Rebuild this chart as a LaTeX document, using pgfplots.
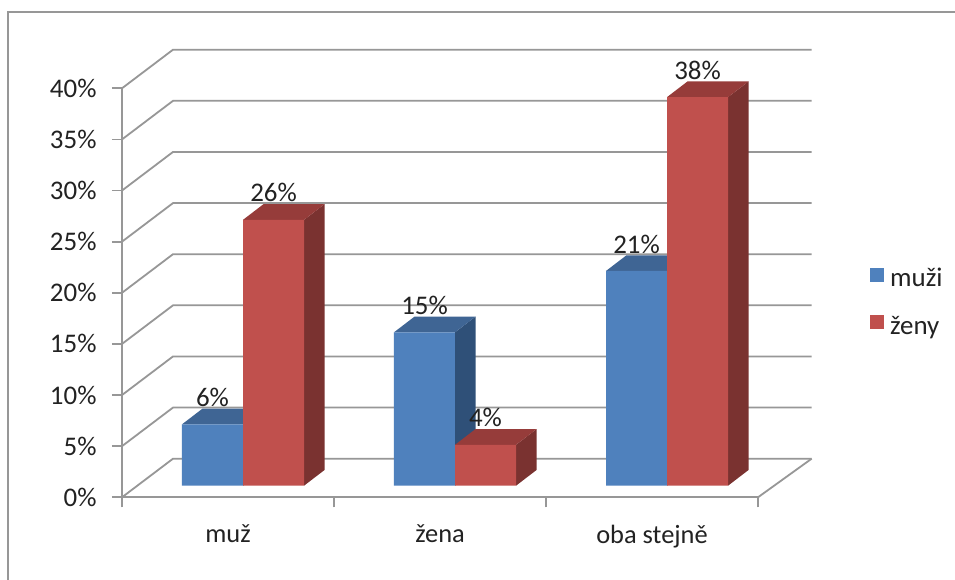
\documentclass[border=0pt]{standalone}
\usepackage{fontspec}
\setmainfont{Carlito}
\usepackage{pgfplots}
\pgfplotsset{compat=1.18}
\definecolor{gridc}{HTML}{979797}
\definecolor{txt}{HTML}{222222}
\definecolor{bluef}{HTML}{4F81BD}
\definecolor{bluet}{HTML}{3F6594}
\definecolor{blues}{HTML}{2F5078}
\definecolor{redf}{HTML}{C0504D}
\definecolor{redt}{HTML}{963C3A}
\definecolor{reds}{HTML}{7A3230}
% one bar's top and side faces: centre x, value, top colour, side colour
\newcommand\barfaces[4]{%
  \pgfmathsetmacro\xa{#1-0.1439}%
  \pgfmathsetmacro\xb{#1+0.1439}%
  \pgfmathsetmacro\xc{#1+0.1439+0.0967}%
  \pgfmathsetmacro\xd{#1-0.1439+0.0967}%
  \pgfmathsetmacro\yt{#2+1.535}%
  \addplot[fill=#4,draw=none,forget plot,xshift=15bp,yshift=11.6bp] coordinates {(\xb,0) (\xc,1.535) (\xc,\yt) (\xb,#2) (\xb,0)};
  \addplot[fill=#3,draw=none,forget plot,xshift=15bp,yshift=11.6bp] coordinates {(\xa,#2) (\xb,#2) (\xc,\yt) (\xd,\yt) (\xa,#2)};
}
\begin{document}
\begin{tikzpicture}[x=1bp,y=1bp]
\useasboundingbox (-122,-82.7) rectangle (833,497.3);
\fill[white] (-122,-82.7) rectangle (833,497.3);
\draw[gridc,line width=2bp] (-113.5,-82.7) -- (-113.5,485.3) -- (833,485.3);
\begin{axis}[
  at={(0,0)},anchor=origin,
  scale only axis,width=636bp,height=409bp,
  xmin=0,xmax=3,ymin=0,ymax=40,clip=false,
  axis x line=bottom,axis y line=left,
  axis line style={-,gridc,line width=1.8bp},
  tick style={gridc,line width=1.8bp},
  major tick length=10bp,
  tick align=outside,
  xtick={0,1,2,3},xticklabels={},
  extra x ticks={0.5,1.5,2.5},
  extra x tick labels={muž,žena,oba stejně},
  extra x tick style={major tick length=0pt,tick label style={yshift=-24bp,text=txt,font=\fontsize{26.5}{28}\selectfont}},
  ytick={0,5,...,40},
  yticklabel={\pgfmathprintnumber{\tick}\%},
  yticklabel style={/pgf/number format/assume math mode=true,text=txt,xshift=-12bp,font=\fontsize{27}{29}\selectfont},
  legend style={at={(1.176,0.562)},anchor=north west,draw=none,fill=none,
    font=\fontsize{27}{29}\selectfont,text=txt,row sep=27bp,inner sep=0pt,
    legend cell align=left,nodes={inner ysep=0pt,inner xsep=6bp}},
  legend image code/.code={\fill[#1,draw=none] (0bp,-15bp) rectangle (14bp,-1bp);},
  every node near coord/.append style={anchor=center,yshift=27bp,text=txt,font=\fontsize{27}{29}\selectfont,/pgf/number format/assume math mode=true},
]
% walls: gridlines run from the front axis to the back wall
\addplot[gridc,line width=1.8bp,forget plot] coordinates {(0,0) (0.2406,3.775) (3.253,3.775)};
\addplot[gridc,line width=1.8bp,forget plot] coordinates {(0,5) (0.2406,8.775) (3.253,8.775)};
\addplot[gridc,line width=1.8bp,forget plot] coordinates {(0,10) (0.2406,13.775) (3.253,13.775)};
\addplot[gridc,line width=1.8bp,forget plot] coordinates {(0,15) (0.2406,18.775) (3.253,18.775)};
\addplot[gridc,line width=1.8bp,forget plot] coordinates {(0,20) (0.2406,23.775) (3.253,23.775)};
\addplot[gridc,line width=1.8bp,forget plot] coordinates {(0,25) (0.2406,28.775) (3.253,28.775)};
\addplot[gridc,line width=1.8bp,forget plot] coordinates {(0,30) (0.2406,33.775) (3.253,33.775)};
\addplot[gridc,line width=1.8bp,forget plot] coordinates {(0,35) (0.2406,38.775) (3.253,38.775)};
\addplot[gridc,line width=1.8bp,forget plot] coordinates {(0,40) (0.2406,43.775) (3.253,43.775)};
\addplot[gridc,line width=1.8bp,forget plot] coordinates {(3,0) (3.253,3.775)};
% muži
\barfaces{0.3561}{6}{bluet}{blues}
\barfaces{1.3561}{15}{bluet}{blues}
\barfaces{2.3561}{21}{bluet}{blues}
\addplot[ybar,bar width=61bp,bar shift=0pt,fill=bluef,draw=none,xshift=15bp,yshift=11.6bp,
  nodes near coords={\pgfmathprintnumber{\pgfplotspointmeta}\%},
  point meta=y] coordinates {(0.3561,6) (1.3561,15) (2.3561,21)};
\addlegendentry{muži}
% ženy
\barfaces{0.6439}{26}{redt}{reds}
\barfaces{1.6439}{4}{redt}{reds}
\barfaces{2.6439}{38}{redt}{reds}
\addplot[ybar,bar width=61bp,bar shift=0pt,fill=redf,draw=none,xshift=15bp,yshift=11.6bp,
  nodes near coords={\pgfmathprintnumber{\pgfplotspointmeta}\%},
  point meta=y] coordinates {(0.6439,26) (1.6439,4) (2.6439,38)};
\addlegendentry{ženy}
\end{axis}
\end{tikzpicture}
\end{document}
